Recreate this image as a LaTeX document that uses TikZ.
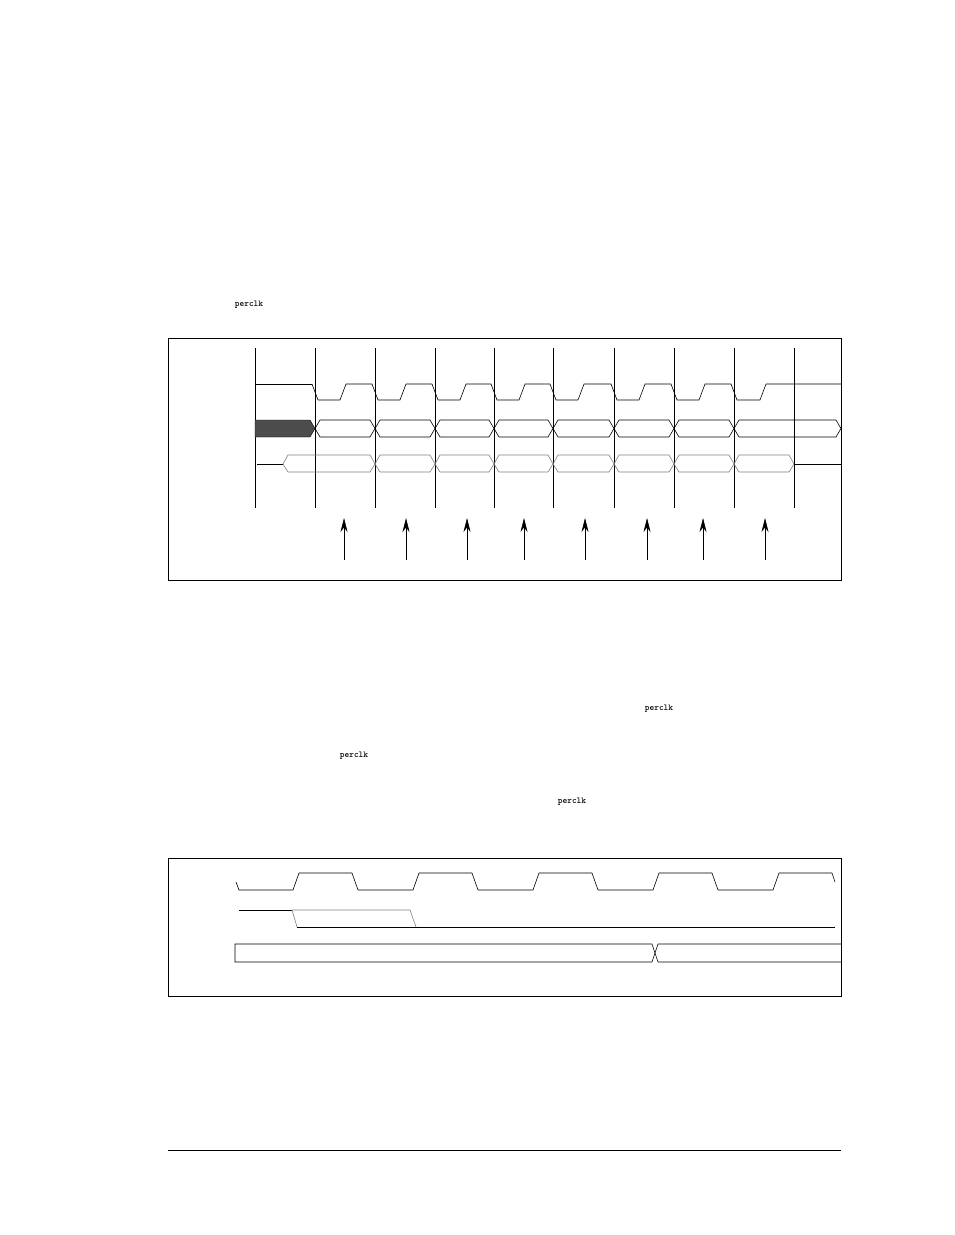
\documentclass[tikz,border=0pt]{standalone}
\usepackage{tikz}
\usetikzlibrary{arrows.meta}
\tikzset{
  sig/.style={line width=0.6pt},
  gsig/.style={line width=0.6pt,draw=gray},
  frame/.style={line width=0.7pt},
  lbl/.style={font=\ttfamily\bfseries\small,inner sep=0pt}
}
\begin{document}
\begin{tikzpicture}[x=1pt,y=-1pt]
        \useasboundingbox (0,0) rectangle (954,1235);

        \node[lbl] (t1) at (249,305) {perclk};
        \node[lbl] (t2) at (659,709) {perclk};
        \node[lbl] (t3) at (354,756) {perclk};
        \node[lbl] (t4) at (572,802) {perclk};

        % first diagram
        \draw[frame] (168,338) rectangle (841,580);
        \foreach \x in {255,315,375,435,494,553,614,674,734,794}
          \draw[sig] (\x,348) -- (\x,508);

        % clock
        \draw[sig] (255,384) -- (312,384);
        \foreach \a/\b in {315/375,375/435,435/494,494/553,553/614,614/674,674/734}
          \draw[sig] (\a-3,384) -- (\a+3,400) -- (\a+25,400) -- (\a+31,384) -- (\b-3,384);
        \draw[sig] (731,384) -- (737,400) -- (760,400) -- (766,384) -- (841,384);

        % bus
        \fill[black!70,draw=black] (255,420) -- (310,420) -- (315,428.5) -- (310,437) -- (255,437) -- cycle;
        \foreach \a/\b in {315/375,375/435,435/494,494/553,553/614,614/674,674/734,734/841}
          \draw[sig] (\a,428.5) -- (\a+5,420) -- (\b-5,420) -- (\b,428.5) -- (\b-5,437) -- (\a+5,437) -- cycle;

        % data
        \draw[sig] (257,464) -- (283,464);
        \foreach \a/\b in {283/375,375/435,435/494,494/553,553/614,614/674,674/734,734/794}
          \draw[gsig] (\a,464) -- (\a+5,455) -- (\b-5,455) -- (\b,464) -- (\b-5,472) -- (\a+5,472) -- cycle;
        \draw[sig] (794,464) -- (841,464);

        % sample points
        \foreach \x in {344,406,467,524,585,647,703,765}
          \draw[sig,-{Stealth[length=14pt,width=7pt]}] (\x,560) -- (\x,518);

        % second diagram
        \draw[frame] (168,858) rectangle (841,996);
        \draw[sig] (236,882) -- (239,890) -- (293,890);
        \foreach \r in {293,413,533,653}
          \draw[sig] (\r,890) -- (\r+6,873) -- (\r+59,873) -- (\r+65,890) -- (\r+120,890);
        \draw[sig] (773,890) -- (779,873) -- (832,873) -- (835,882);

        \draw[sig] (239,910) -- (292,910);
        \draw[gsig] (292,910) -- (410,910) -- (416,927);
        \draw[gsig] (292,910) -- (297,927);
        \draw[sig] (297,927) -- (835,927);

        \draw[sig] (652,944) -- (235,944) -- (235,962) -- (652,962) -- (655,953) -- (658,944) -- (841,944);
        \draw[sig] (652,944) -- (655,953) -- (658,962) -- (841,962);

        \draw[sig] (168,1150) -- (841,1150);
\end{tikzpicture}
\end{document}
